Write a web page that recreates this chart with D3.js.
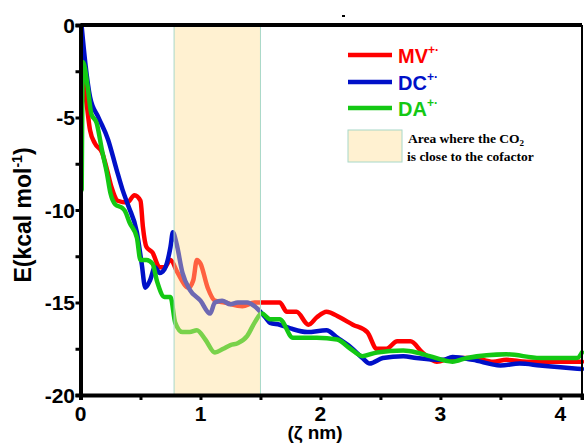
<!DOCTYPE html>
<html>
<head>
<meta charset="utf-8">
<script src="https://cdn.jsdelivr.net/npm/d3@7"></script>
<style>
  html, body { margin: 0; padding: 0; background: #fff; }
  #chart { width: 584px; height: 443px; }
</style>
</head>
<body>
<div id="chart"></div>
<script>
// --- data ---
const seriesNames = ["MV", "DC", "DA"];
const seriesColors = ["#ff0000", "#0010c8", "#14c814"];

// [ζ (nm), E (kcal/mol)]
const mvData = [
  [0.01, -2.3], [0.05, -4.2], [0.08, -5.7], [0.12, -6.4], [0.18, -6.9], [0.22, -7.8],
  [0.26, -8.8], [0.31, -9.5], [0.39, -9.6], [0.45, -9.2], [0.50, -9.5], [0.52, -10.9],
  [0.55, -12.0], [0.60, -12.3], [0.66, -13.1], [0.70, -13.1], [0.75, -12.7], [0.81, -13.4],
  [0.90, -14.2], [0.94, -13.8], [0.97, -12.7], [1.00, -12.9], [1.06, -14.2], [1.12, -14.9],
  [1.20, -15.0], [1.35, -15.2], [1.45, -15.0], [1.66, -15.0], [1.72, -15.5], [1.80, -15.5],
  [1.90, -16.2], [1.97, -15.8], [2.05, -15.5], [2.16, -15.8], [2.27, -16.2], [2.39, -16.6],
  [2.47, -17.5], [2.55, -17.5], [2.64, -17.1], [2.75, -17.1], [2.85, -17.7], [2.97, -18.2],
  [3.10, -18.0], [3.27, -18.0], [3.44, -18.2], [3.55, -18.1], [3.72, -18.2], [4.18, -18.2]
];
const dcData = [
  [0.01, -0.1], [0.04, -2.05], [0.08, -3.9], [0.15, -5.0], [0.23, -6.2], [0.30, -7.8],
  [0.35, -8.9], [0.40, -9.8], [0.47, -11.2], [0.51, -12.9], [0.54, -14.2], [0.58, -13.8],
  [0.62, -13.1], [0.66, -13.4], [0.70, -13.2], [0.75, -12.0], [0.77, -11.2], [0.80, -11.8],
  [0.85, -13.4], [0.91, -14.3], [1.00, -14.9], [1.08, -15.6], [1.12, -15.0], [1.18, -14.9],
  [1.25, -15.1], [1.31, -15.0], [1.39, -15.0], [1.45, -15.2], [1.54, -15.8], [1.58, -16.1],
  [1.66, -16.2], [1.75, -16.4], [1.89, -16.6], [2.05, -16.5], [2.14, -16.9], [2.25, -17.4],
  [2.35, -18.0], [2.41, -18.3], [2.52, -18.0], [2.69, -17.9], [2.80, -18.0], [3.02, -18.1],
  [3.10, -17.95], [3.27, -18.1], [3.50, -18.4], [3.66, -18.3], [3.83, -18.4], [4.00, -18.5],
  [4.18, -18.6]
];
const daData = [
  [0.01, -8.9], [0.02, -2.0], [0.06, -3.35], [0.09, -4.8], [0.135, -5.3], [0.18, -6.8],
  [0.22, -8.0], [0.25, -9.1], [0.29, -9.7], [0.35, -9.9], [0.37, -10.05], [0.41, -10.7],
  [0.47, -11.5], [0.50, -12.7], [0.55, -12.7], [0.60, -12.9], [0.64, -13.9], [0.70, -14.7],
  [0.75, -14.7], [0.79, -16.1], [0.85, -16.6], [0.91, -16.6], [0.97, -16.5], [1.04, -17.0],
  [1.12, -17.7], [1.19, -17.5], [1.25, -17.3], [1.31, -17.2], [1.39, -16.8], [1.45, -16.1],
  [1.51, -15.6], [1.58, -15.9], [1.66, -15.9], [1.77, -16.9], [1.97, -16.9], [2.14, -17.0],
  [2.25, -17.5], [2.35, -17.9], [2.47, -17.7], [2.69, -17.6], [2.80, -17.7], [2.91, -17.9],
  [3.10, -18.2], [3.22, -18.0], [3.55, -17.8], [3.83, -18.0], [4.14, -18.0], [4.18, -17.7]
];

const areaRange = [0.78, 1.5]; // region where CO2 is close to the cofactor
const xTicksMajor = [0, 1, 2, 3, 4];
const xTicksAll = [0, 0.5, 1, 1.5, 2, 2.5, 3, 3.5, 4];
const yTicksMajor = [0, -5, -10, -15, -20];
const yTicksAll = [0, -2.5, -5, -7.5, -10, -12.5, -15, -17.5, -20];

// --- canvas ---
const W = 584, H = 443;
const svg = d3.select("#chart").append("svg")
  .attr("width", W).attr("height", H)
  .attr("viewBox", `0 0 ${W} ${H}`);

const x = d3.scaleLinear().domain([0, 4.18]).range([80.5, 582]);
const y = d3.scaleLinear().domain([-20, 0]).range([395, 25]);

const line = d3.line().x(d => x(d[0])).y(d => y(d[1])).curve(d3.curveMonotoneX);
const sans = "'Liberation Sans', Arial, sans-serif";

// lines
const allSeries = [mvData, dcData, daData];
svg.append("g").selectAll("path")
  .data(allSeries)
  .enter().append("path")
  .attr("d", line)
  .attr("fill", "none")
  .attr("stroke", (d, i) => seriesColors[i])
  .attr("stroke-width", 4.5)
  .attr("stroke-linejoin", "round")
  .attr("stroke-linecap", "round");

// shaded area drawn over the lines (semi-transparent)
svg.append("rect")
  .attr("x", x(areaRange[0]))
  .attr("y", y(0))
  .attr("width", x(areaRange[1]) - x(areaRange[0]))
  .attr("height", y(-20) - y(0))
  .attr("fill", "#ffdf95")
  .attr("fill-opacity", 0.43)
  .attr("stroke", "#a8d8c8")
  .attr("stroke-width", 1);

// frame: top and right
svg.append("line").attr("x1", x(0)).attr("x2", 582).attr("y1", y(0)).attr("y2", y(0))
  .attr("stroke", "#000").attr("stroke-width", 4);
svg.append("line").attr("x1", 582).attr("x2", 582).attr("y1", y(0)).attr("y2", y(-20))
  .attr("stroke", "#000").attr("stroke-width", 2);

// axes
const xAxis = svg.append("g").attr("transform", `translate(0,${y(-20)})`)
  .call(d3.axisBottom(x).tickValues(xTicksAll).tickSize(5).tickFormat(""));
xAxis.select(".domain").attr("stroke-width", 4);
xAxis.selectAll(".tick line").attr("stroke-width", 3);
svg.append("g").selectAll("text")
  .data(xTicksMajor).enter().append("text")
  .attr("x", d => x(d)).attr("y", 421)
  .attr("text-anchor", "middle")
  .style("font", `bold 21px ${sans}`)
  .text(d => d);

const yAxis = svg.append("g").attr("transform", `translate(${x(0)},0)`)
  .call(d3.axisLeft(y).tickValues(yTicksAll).tickSize(5).tickFormat(""));
yAxis.select(".domain").attr("stroke-width", 4);
yAxis.selectAll(".tick line").attr("stroke-width", 3);
svg.append("g").selectAll("text")
  .data(yTicksMajor).enter().append("text")
  .attr("x", 75).attr("y", d => y(d) + 7.5)
  .attr("text-anchor", "end")
  .style("font", `bold 21px ${sans}`)
  .text(d => d);

// axis titles
svg.append("text")
  .attr("x", 315).attr("y", 439)
  .attr("text-anchor", "middle")
  .style("font", `bold 19px ${sans}`)
  .text("(ζ nm)");

const yTitle = svg.append("text")
  .attr("transform", "translate(31,215) rotate(-90)")
  .attr("text-anchor", "middle")
  .style("font", `bold 23px ${sans}`);
yTitle.append("tspan").text("E(kcal mol");
yTitle.append("tspan").attr("dy", -9).style("font-size", "14px").text("-1");
yTitle.append("tspan").attr("dy", 9).text(")");

// stray mark above the frame
svg.append("rect").attr("x", 342).attr("y", 15).attr("width", 3).attr("height", 2).attr("fill", "#000");

// legend
const legend = svg.append("g");
const legendY = [55, 82, 108];
seriesNames.forEach((name, i) => {
  legend.append("line")
    .attr("x1", 348).attr("x2", 392)
    .attr("y1", legendY[i]).attr("y2", legendY[i])
    .attr("stroke", seriesColors[i]).attr("stroke-width", 4.5);
  const t = legend.append("text")
    .attr("x", 398).attr("y", legendY[i] + 8)
    .attr("fill", seriesColors[i])
    .style("font", `bold 20px ${sans}`);
  t.append("tspan").text(name);
  t.append("tspan").attr("dy", -9).style("font-size", "12px").text("+·");
});

legend.append("rect")
  .attr("x", 348).attr("y", 130).attr("width", 54).attr("height", 32)
  .attr("fill", "#ffdf95").attr("fill-opacity", 0.43)
  .attr("stroke", "#a8d8c8").attr("stroke-width", 1);
const l1 = legend.append("text")
  .attr("x", 408).attr("y", 143)
  .style("font", "bold 13.5px 'Liberation Serif', 'Times New Roman', serif");
l1.append("tspan").text("Area where the CO");
l1.append("tspan").attr("dy", 3).style("font-size", "9px").text("2");
legend.append("text")
  .attr("x", 407).attr("y", 161)
  .style("font", "bold 13.5px 'Liberation Serif', 'Times New Roman', serif")
  .text("is close to the cofactor");
</script>
</body>
</html>
